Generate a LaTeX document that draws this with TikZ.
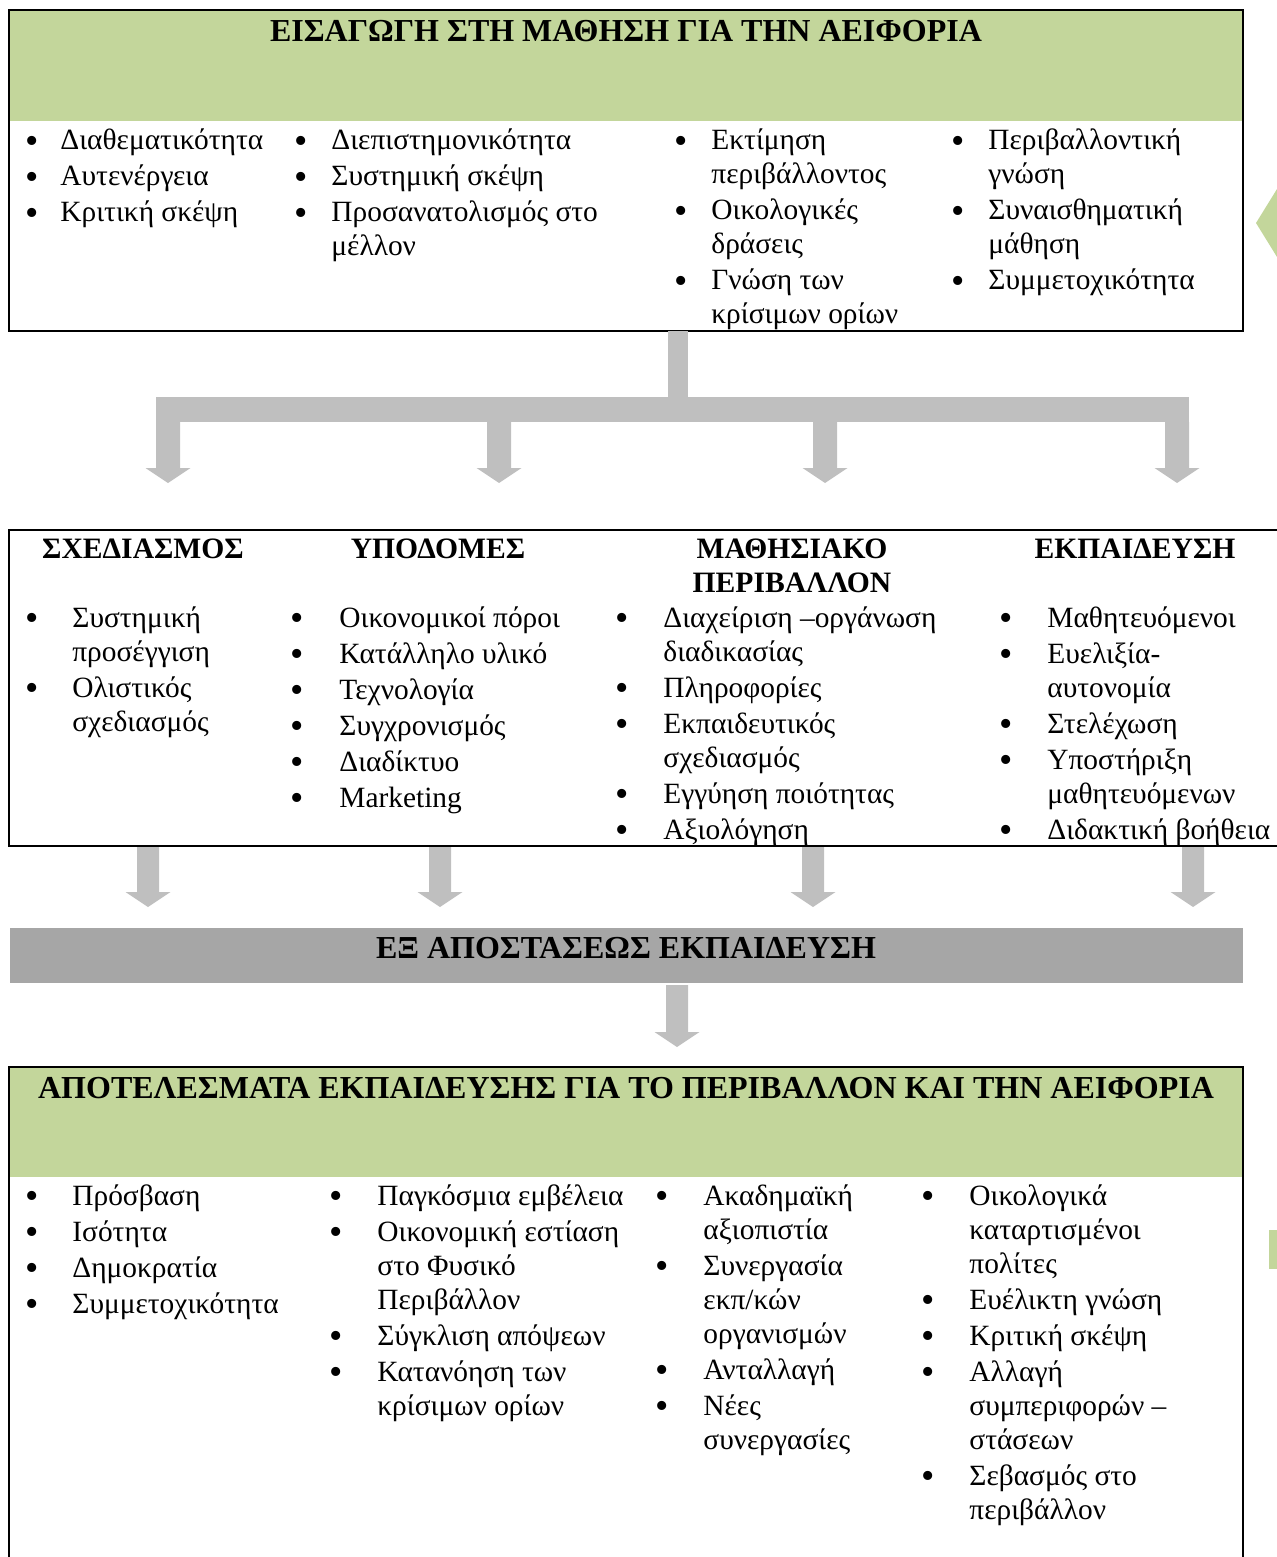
\documentclass[tikz,border=0pt]{standalone}
\usepackage{fontspec}
\setmainfont{Liberation Serif}
\usepackage{array}
\definecolor{grn}{HTML}{C3D69B}
\definecolor{arrgray}{HTML}{BFBFBF}
\definecolor{bandgray}{HTML}{A6A6A6}
\newcommand\bul{\raisebox{-1.6pt}{\fontsize{19pt}{17pt}\selectfont\textbullet}}
\newcommand\lst[2]{\begin{tabular}[t]{@{}p{#1}@{}l@{}}#2\end{tabular}}
% block arrow: centre x, top y, head start y, tip y, half shaft width
\newcommand\blockarr[5]{%
  \fill[arrgray] (#1-#5,#2) -- (#1+#5,#2) -- (#1+#5,#3) -- (#1+22.5,#3) -- (#1,#4)
    -- (#1-22.5,#3) -- (#1-#5,#3) -- cycle;}
\begin{document}
\begin{tikzpicture}[x=0.5pt,y=-0.5pt,
  font=\fontsize{14.7pt}{17pt}\selectfont,
  col/.style={anchor=base west, inner sep=0pt},
  ttl/.style={anchor=base, inner sep=0pt, font=\fontsize{16pt}{17pt}\selectfont\bfseries},
  hdr/.style={anchor=base, inner sep=0pt, font=\fontsize{14.8pt}{17pt}\selectfont\bfseries},
  frame/.style={line width=1.25pt}]
\useasboundingbox (0,0) rectangle (1277,1557);
\begin{scope}
\clip (0,0) rectangle (1277,1557);
% ---------- top box ----------
\fill[grn] (9,10) rectangle (1243,121);
\draw[frame] (9,10) rectangle (1243,331);
\node[ttl] (toptitle) at (626,42) {ΕΙΣΑΓΩΓΗ ΣΤΗ ΜΑΘΗΣΗ ΓΙΑ ΤΗΝ ΑΕΙΦΟΡΙΑ};
\node[col] (t1) at (25,150) {\lst{17.5pt}{\bul & Διαθεματικότητα\\[1pt] \bul & Αυτενέργεια\\[1pt] \bul & Κριτική σκέψη}};
\node[col] (t2) at (294,150) {\lst{18.5pt}{\bul & Διεπιστημονικότητα\\[1pt] \bul & Συστημική σκέψη\\[1pt] \bul & Προσανατολισμός στο\\ & μέλλον}};
\node[col] (t3) at (674,150) {\lst{18.5pt}{\bul & Εκτίμηση\\ & περιβάλλοντος\\[1pt] \bul & Οικολογικές\\ & δράσεις\\[1pt] \bul & Γνώση των\\ & κρίσιμων ορίων}};
\node[col] (t4) at (951,150) {\lst{18.5pt}{\bul & Περιβαλλοντική\\ & γνώση\\[1pt] \bul & Συναισθηματική\\ & μάθηση\\[1pt] \bul & Συμμετοχικότητα}};
% right-edge green marks
\fill[grn] (1256,223) -- (1277,189) -- (1277,257) -- cycle;
\fill[grn] (1269,1230) rectangle (1277,1269);
% ---------- connector ----------
\fill[arrgray] (668,331) rectangle (688,397);
\fill[arrgray] (156,397) rectangle (1189,422);
\blockarr{168}{422}{468}{483}{12}
\blockarr{499}{422}{468}{483}{12}
\blockarr{825}{422}{468}{483}{12}
\blockarr{1177}{422}{468}{483}{12}
% ---------- middle box ----------
\draw[frame] (1290,530) -- (9,530) -- (9,846) -- (1290,846);
\node[hdr] (h1) at (143,558) {ΣΧΕΔΙΑΣΜΟΣ};
\node[hdr] (h2) at (438,558) {ΥΠΟΔΟΜΕΣ};
\node[hdr] (h3) at (792,558) {ΜΑΘΗΣΙΑΚΟ};
\node[hdr] (h3b) at (792,592) {ΠΕΡΙΒΑΛΛΟΝ};
\node[hdr] (h4) at (1135,558) {ΕΚΠΑΙΔΕΥΣΗ};
\node[col] (m1) at (25,627) {\lst{23.5pt}{\bul & Συστημική\\ & προσέγγιση\\[1pt] \bul & Ολιστικός\\ & σχεδιασμός}};
\node[col] (m2) at (290,627) {\lst{24.5pt}{\bul & Οικονομικοί πόροι\\[1pt] \bul & Κατάλληλο υλικό\\[1pt] \bul & Τεχνολογία\\[1pt] \bul & Συγχρονισμός\\[1pt] \bul & Διαδίκτυο\\[1pt] \bul & Marketing}};
\node[col] (m3) at (615,627) {\lst{24pt}{\bul & Διαχείριση –οργάνωση\\ & διαδικασίας\\[1pt] \bul & Πληροφορίες\\[1pt] \bul & Εκπαιδευτικός\\ & σχεδιασμός\\[1pt] \bul & Εγγύηση ποιότητας\\[1pt] \bul & Αξιολόγηση}};
\node[col] (m4) at (999,627) {\lst{24pt}{\bul & Μαθητευόμενοι\\[1pt] \bul & Ευελιξία-\\ & αυτονομία\\[1pt] \bul & Στελέχωση\\[1pt] \bul & Υποστήριξη\\ & μαθητευόμενων\\[1pt] \bul & Διδακτική βοήθεια}};
% arrows to band
\blockarr{148}{847}{892}{907}{11}
\blockarr{440}{847}{892}{907}{11}
\blockarr{813}{847}{892}{907}{11}
\blockarr{1193}{847}{892}{907}{11}
% ---------- band ----------
\fill[bandgray] (10,928) rectangle (1243,983);
\node[ttl] (band) at (626,958) {ΕΞ ΑΠΟΣΤΑΣΕΩΣ ΕΚΠΑΙΔΕΥΣΗ};
\blockarr{677}{985}{1032}{1047}{11}
% ---------- bottom box ----------
\fill[grn] (9,1067) rectangle (1243,1177);
\draw[frame] (9,1600) -- (9,1067) -- (1243,1067) -- (1243,1600);
\node[ttl] (bottitle) at (626,1098) {ΑΠΟΤΕΛΕΣΜΑΤΑ ΕΚΠΑΙΔΕΥΣΗΣ ΓΙΑ ΤΟ ΠΕΡΙΒΑΛΛΟΝ ΚΑΙ ΤΗΝ ΑΕΙΦΟΡΙΑ};
\node[col] (b1) at (25,1205) {\lst{23.5pt}{\bul & Πρόσβαση\\[1pt] \bul & Ισότητα\\[1pt] \bul & Δημοκρατία\\[1pt] \bul & Συμμετοχικότητα}};
\node[col] (b2) at (329,1205) {\lst{24pt}{\bul & Παγκόσμια εμβέλεια\\[1pt] \bul & Οικονομική εστίαση\\ & στο Φυσικό\\ & Περιβάλλον\\[1pt] \bul & Σύγκλιση απόψεων\\[1pt] \bul & Κατανόηση των\\ & κρίσιμων ορίων}};
\node[col] (b3) at (655,1205) {\lst{24pt}{\bul & Ακαδημαϊκή\\ & αξιοπιστία\\[1pt] \bul & Συνεργασία\\ & εκπ/κών\\ & οργανισμών\\[1pt] \bul & Ανταλλαγή\\[1pt] \bul & Νέες\\ & συνεργασίες}};
\node[col] (b4) at (921,1205) {\lst{24pt}{\bul & Οικολογικά\\ & καταρτισμένοι\\ & πολίτες\\[1pt] \bul & Ευέλικτη γνώση\\[1pt] \bul & Κριτική σκέψη\\[1pt] \bul & Αλλαγή\\ & συμπεριφορών –\\ & στάσεων\\[1pt] \bul & Σεβασμός στο\\ & περιβάλλον}};
\end{scope}
\end{tikzpicture}
\end{document}
